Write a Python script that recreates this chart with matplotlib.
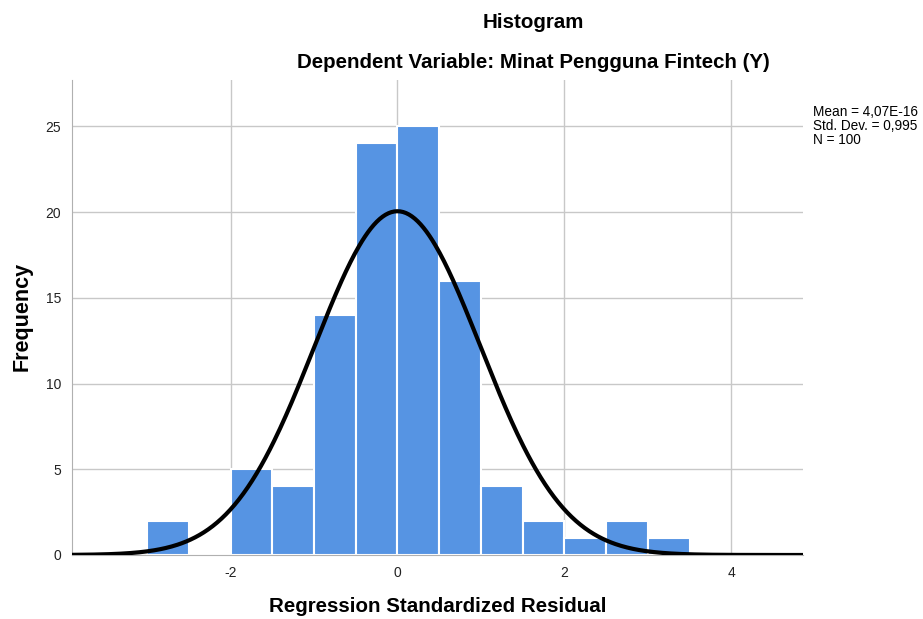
import numpy as np
import matplotlib
matplotlib.use("Agg")
import matplotlib.pyplot as plt

plt.rcParams['font.family'] = ['Liberation Sans', 'DejaVu Sans']
plt.rcParams['axes.unicode_minus'] = False

bin_edges = [-3.0, -2.5, -2.0, -1.5, -1.0, -0.5, 0.0, 0.5, 1.0, 1.5, 2.0, 2.5, 3.0, 3.5]
counts = [2, 0, 5, 4, 14, 24, 25, 16, 4, 2, 1, 2, 1]
mean = 4.07e-16
std = 0.995
n = 100
xticks = [-2, 0, 2, 4]
yticks = [0, 5, 10, 15, 20, 25]

fig = plt.figure(figsize=(9.23, 6.19), dpi=100)
ax = fig.add_axes([72/923, 1-555/619, (803-72)/923, (555-80)/619])

lefts = bin_edges[:-1]
widths = np.diff(bin_edges)
ax.bar(lefts, counts, width=widths, align='edge', color='#5694E3',
       edgecolor='white', linewidth=1.5, zorder=2)

xs = np.linspace(-3.9, 4.86, 500)
binw = widths[0]
ys = n * binw * np.exp(-0.5 * ((xs - mean) / std) ** 2) / (std * np.sqrt(2 * np.pi))
ax.plot(xs, ys, color='black', linewidth=3, zorder=3, solid_capstyle='butt')

ax.set_xlim(-3.9, 4.86)
ax.set_ylim(0, 27.7)
ax.set_xticks(xticks)
ax.set_yticks(yticks)
ax.grid(True, color='#c8c8c8', linewidth=1, zorder=0)
ax.set_axisbelow(True)
for s in ['top', 'right']:
    ax.spines[s].set_visible(False)
for s in ['left', 'bottom']:
    ax.spines[s].set_color('#b0b0b0')
ax.tick_params(length=0, labelsize=10, colors='#222222', pad=8)

fig.text(533/923, 1-22/619, 'Histogram', ha='center', va='center',
         fontsize=14.8, fontweight='bold')
fig.text(533/923, 1-62/619, 'Dependent Variable: Minat Pengguna Fintech (Y)',
         ha='center', va='center', fontsize=14.8, fontweight='bold')
fig.text(813/923, 1-126/619,
         'Mean = 4,07E-16\nStd. Dev. = 0,995\nN = 100',
         ha='left', va='center', fontsize=9.8, linespacing=1.0)
fig.text(22/923, 1-316/619, 'Frequency', rotation=90, ha='center', va='center',
         fontsize=15.5, fontweight='bold')
fig.text(438/923, 1-606/619, 'Regression Standardized Residual', ha='center',
         va='center', fontsize=14.8, fontweight='bold')

fig.savefig('out.png', dpi=100)
